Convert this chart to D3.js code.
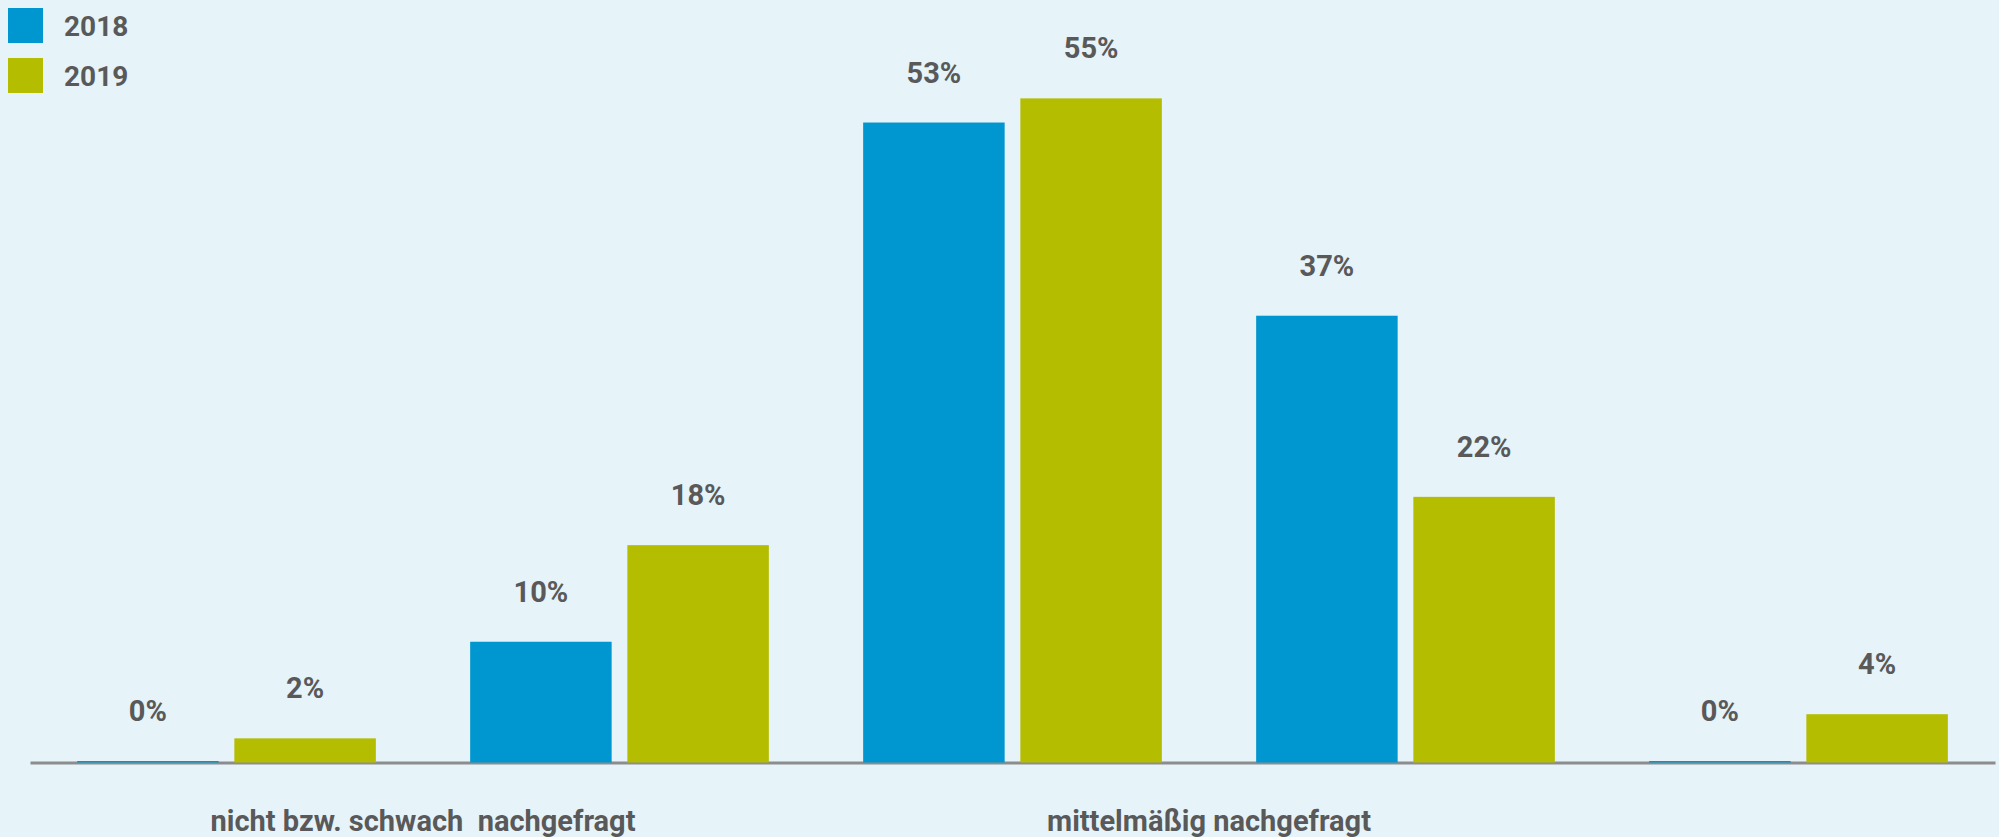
<!DOCTYPE html>
<html>
<head>
<meta charset="utf-8">
<script src="https://cdn.jsdelivr.net/npm/d3@7"></script>
<style>
  html, body { margin: 0; padding: 0; background: #e6f3f9; }
  svg { display: block; font-family: Roboto, 'Noto Sans', sans-serif; }
</style>
</head>
<body>
<svg id="chart"></svg>
<script>
let categories = ['1', '2', '3', '4', '5']
let seriesNames = ['2018', '2019']
let values2018 = [0, 10, 53, 37, 0]
let values2019 = [2, 18, 55, 22, 4]
let axisLabels = ['nicht bzw. schwach  nachgefragt', 'mittelmäßig nachgefragt']
let colors = ['#0096cf', '#b5bd00']

let width = 1999
let height = 837
let margin = { left: 30, right: 4, top: 38, bottom: 74 }

let svg = d3.select('#chart')
  .attr('width', width)
  .attr('height', height)

svg.append('rect')
  .attr('width', width)
  .attr('height', height)
  .attr('fill', '#e6f3f9')

let x0 = d3.scaleBand()
  .domain(categories)
  .range([margin.left, width - margin.right])
  .paddingInner(0.24)
  .paddingOuter(0.12)

let x1 = d3.scaleBand()
  .domain(seriesNames)
  .range([0, x0.bandwidth()])
  .paddingInner(0.1)

let y = d3.scaleLinear()
  .domain([0, 60])
  .range([height - margin.bottom - 0.5, margin.top])

// x axis line, drawn first so the zero bars sit on top of it
let xAxis = d3.axisBottom(x0).tickSize(0).tickFormat('')
svg.append('g')
  .attr('transform', 'translate(0,' + y(0) + ')')
  .call(xAxis)
  .call(function (g) {
    g.select('.domain').attr('stroke', '#8c8c8c').attr('stroke-width', 3)
  })

let rows = categories.map(function (c, i) {
  return { cat: c, vals: [values2018[i], values2019[i]] }
})

let groups = svg.selectAll('g.group')
  .data(rows)
  .enter().append('g')
  .attr('class', 'group')
  .attr('transform', function (d) { return 'translate(' + x0(d.cat) + ',0)' })

groups.selectAll('rect')
  .data(function (d) { return d.vals.map(function (v, k) { return { s: seriesNames[k], v: v, k: k } }) })
  .enter().append('rect')
  .attr('x', function (d) { return x1(d.s) })
  .attr('width', x1.bandwidth())
  // zero values still show as a thin line on the axis
  .attr('y', function (d) { return Math.min(y(d.v), y(0) - 1.5) })
  .attr('height', function (d) { return Math.max(y(0) - y(d.v), 1.5) })
  .attr('fill', function (d) { return colors[d.k] })

groups.selectAll('text')
  .data(function (d) { return d.vals.map(function (v, k) { return { s: seriesNames[k], v: v } }) })
  .enter().append('text')
  .attr('x', function (d) { return x1(d.s) + x1.bandwidth() / 2 })
  .attr('y', function (d) { return Math.min(y(d.v), y(0) - 2) - 40 })
  .attr('text-anchor', 'middle')
  .attr('font-size', 29)
  .attr('font-weight', 700)
  .attr('fill', '#595959')
  .text(function (d) { return d.v + '%' })

// axis labels sit between each pair of categories
svg.selectAll('text.axis-label')
  .data(axisLabels)
  .enter().append('text')
  .attr('class', 'axis-label')
  .attr('x', function (d, i) {
    let a = categories[i * 2]
    let b = categories[i * 2 + 1]
    return (x0(a) + x0(b) + x0.bandwidth()) / 2
  })
  .attr('y', 831)
  .attr('text-anchor', 'middle')
  .attr('font-size', 29)
  .attr('font-weight', 700)
  .attr('fill', '#595959')
  .style('white-space', 'pre')
  .text(function (d) { return d })

// legend
let legend = svg.selectAll('g.legend')
  .data(seriesNames)
  .enter().append('g')
  .attr('class', 'legend')
  .attr('transform', function (d, i) { return 'translate(8,' + (8 + i * 50) + ')' })

legend.append('rect')
  .attr('width', 35)
  .attr('height', 35)
  .attr('fill', function (d, i) { return colors[i] })

legend.append('text')
  .attr('x', 56)
  .attr('y', 28)
  .attr('font-size', 28)
  .attr('font-weight', 700)
  .attr('fill', '#595959')
  .text(function (d) { return d })
</script>
</body>
</html>
